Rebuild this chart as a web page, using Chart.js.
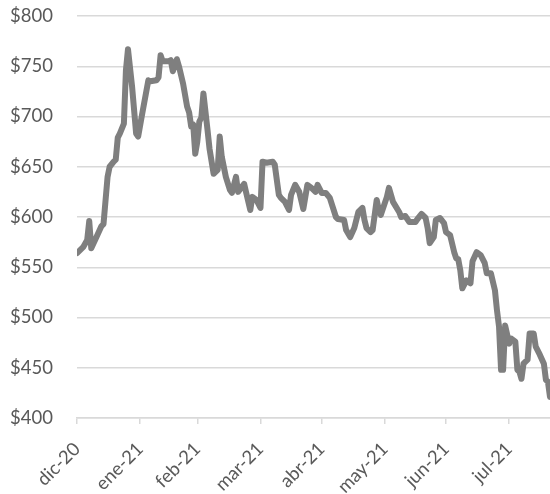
<!DOCTYPE html>
<html>
<head>
<meta charset="utf-8">
<script src="https://cdn.jsdelivr.net/npm/chart.js@4"></script>
<style>
  html, body { margin: 0; padding: 0; background: #fff; }
  #wrap { width: 550px; height: 494px; }
</style>
</head>
<body>
<div id="wrap"><canvas id="priceChart" width="550" height="494"></canvas></div>
<script>
// dias desde 31-dic-20
const days = [0, 3, 5, 6, 7, 10, 12, 13, 15, 16, 18, 19, 20, 21, 23, 24, 25, 27, 29, 30,
  32, 35, 36, 39, 40, 41, 42, 45, 46, 47, 49, 50, 52, 54, 55, 56, 57, 58, 59, 60,
  61, 62, 64, 65, 67, 69, 70, 71, 73, 75, 76, 78, 79, 82, 83, 85, 86, 88, 90, 91,
  93, 96, 97, 99, 100, 102, 104, 105, 107, 109, 111, 113, 115, 117, 118, 120, 122, 124, 127, 128,
  131, 132, 134, 136, 138, 140, 141, 142, 144, 145, 147, 148, 149, 152, 153, 155, 158, 159, 161, 163,
  166, 167, 169, 171, 172, 173, 175, 176, 178, 180, 181, 183, 185, 186, 187, 188, 189, 191, 193, 194,
  196, 198, 200, 201, 203, 205, 206, 207, 208, 209, 210, 212, 213, 215, 216, 217, 218, 219, 220, 221,
  222, 224, 225, 227, 229, 230, 231, 232];
const prices = [564, 570, 577, 596, 569, 582, 591, 593, 640, 650, 655, 657, 679, 683, 693, 746, 767, 730, 683, 680,
  703, 736, 735, 736, 739, 761, 755, 755, 756, 745, 757, 750, 733, 710, 704, 690, 692, 663, 675, 695,
  699, 723, 687, 668, 643, 647, 680, 660, 640, 627, 624, 640, 625, 633, 624, 607, 620, 617, 609, 655,
  654, 655, 652, 622, 619, 615, 607, 622, 632, 625, 608, 632, 629, 625, 632, 624, 624, 619, 600, 598,
  597, 587, 580, 589, 605, 609, 597, 589, 585, 587, 617, 607, 602, 620, 629, 615, 605, 600, 601, 595,
  595, 598, 603, 599, 589, 574, 580, 597, 599, 594, 585, 582, 565, 559, 558, 547, 529, 537, 534, 556,
  565, 562, 554, 544, 544, 527, 507, 491, 448, 448, 492, 474, 479, 476, 448, 446, 439, 454, 456, 458,
  484, 484, 471, 463, 454, 438, 436, 421];

const tickDays = [0, 31, 59, 90, 120, 151, 181, 212];
const tickLabels = ["dic-20", "ene-21", "feb-21", "mar-21", "abr-21", "may-21", "jun-21", "jul-21"];
const yTicks = [400, 450, 500, 550, 600, 650, 700, 750, 800];

const ctx = document.getElementById("priceChart").getContext("2d");
const labelFont = { family: "Lato", size: 18.5 };

const chart = new Chart(ctx, {
  type: 'line',
  data: {
    datasets: [{
      label: 'Precio',
      data: days.map((d, i) => ({ x: d, y: prices[i] })),
      borderColor: '#7f7f7f',
      borderWidth: 6,
      borderJoinStyle: 'round',
      borderCapStyle: 'round',
      pointRadius: 0,
      tension: 0,
      fill: false
    }]
  },
  options: {
    responsive: false,
    animation: false,
    layout: { padding: { top: 16, left: 0, right: 0, bottom: 0 } },
    plugins: { legend: { display: false }, tooltip: { enabled: false } },
    scales: {
      x: {
        type: 'linear',
        min: 0,
        max: 232,
        afterBuildTicks: (scale) => { scale.ticks = tickDays.map(v => ({ value: v })); },
        afterFit: (scale) => { scale.height = 76; scale.paddingTop = 0; scale.paddingRight = 0; },
        grid: { drawOnChartArea: false, drawTicks: true, tickLength: 6, color: '#d9d9d9', lineWidth: 1.5 },
        border: { display: true, color: '#d9d9d9', width: 1.5 },
        ticks: {
          autoSkip: false,
          minRotation: 45,
          maxRotation: 45,
          padding: 14,
          color: '#595959',
          font: labelFont,
          callback: (v, i) => tickLabels[i]
        }
      },
      y: {
        min: 400,
        max: 800,
        afterBuildTicks: (scale) => { scale.ticks = yTicks.map(v => ({ value: v })); },
        afterFit: (scale) => { scale.width = 77; scale.paddingTop = 0; scale.paddingBottom = 0; },
        grid: { color: '#d9d9d9', lineWidth: 1.5, drawTicks: false },
        border: { display: false },
        ticks: {
          padding: 24,
          color: '#595959',
          font: labelFont,
          callback: (v) => '$' + v
        }
      }
    }
  }
});
</script>
</body>
</html>
